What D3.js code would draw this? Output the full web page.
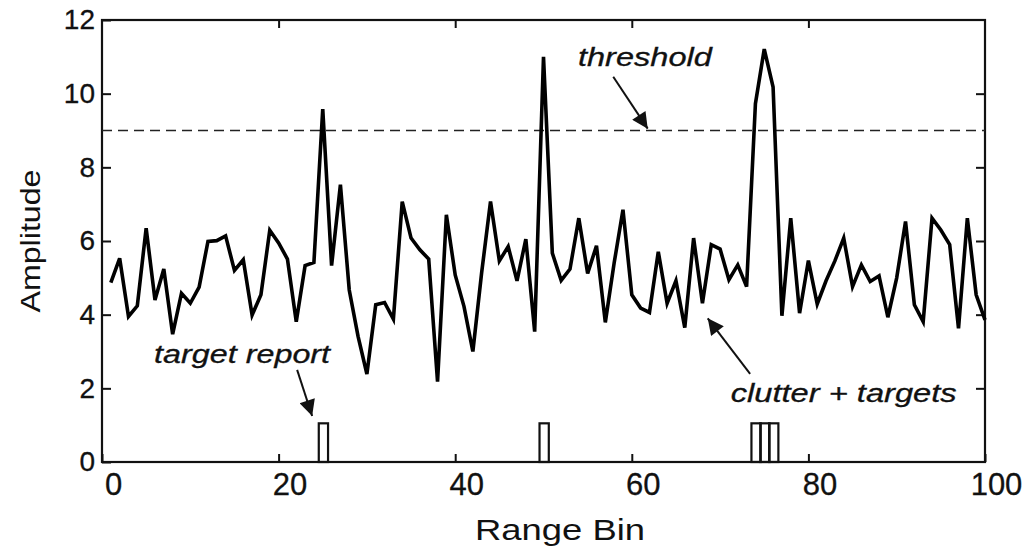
<!doctype html>
<html lang="en">
<head>
<meta charset="utf-8">
<script src="https://cdn.jsdelivr.net/npm/d3@7/dist/d3.min.js"></script>
<style>
    body { margin: 0; background: #fff; }
    svg { display: block; font-family: "Liberation Sans", Arial, sans-serif; }
    .axis text { fill: #111; stroke: #111; stroke-width: 0.3; }
    .axis line { stroke: #111; stroke-width: 2; }
</style>
</head>
<body>
<div id="chart"></div>
<script>
    // amplitude per range bin (bins 1..100)
    var amplitude = [
        4.87, 5.53, 3.95, 4.24, 6.35, 4.40, 5.24, 3.47, 4.58, 4.31,
        4.75, 5.99, 6.01, 6.14, 5.20, 5.49, 3.99, 4.54, 6.29, 5.95,
        5.51, 3.81, 5.33, 5.42, 9.58, 5.33, 7.53, 4.67, 3.41, 2.39,
        4.27, 4.33, 3.88, 7.07, 6.08, 5.76, 5.51, 2.18, 6.71, 5.08,
        4.22, 3.00, 5.15, 7.07, 5.46, 5.85, 4.92, 6.05, 3.54, 11.0,
        5.67, 4.93, 5.24, 6.62, 5.12, 5.87, 3.79, 5.40, 6.85, 4.54,
        4.18, 4.06, 5.71, 4.31, 4.92, 3.65, 6.08, 4.31, 5.90, 5.78,
        4.95, 5.35, 4.76, 9.73, 11.21, 10.18, 3.97, 6.62, 4.04, 5.47,
        4.29, 4.92, 5.46, 6.08, 4.76, 5.35, 4.90, 5.05, 3.93, 5.00,
        6.53, 4.27, 3.81, 6.62, 6.30, 5.90, 3.63, 6.62, 4.54, 3.86
    ];
    var firstBin = 1;
    var threshold = 9;
    // bins that crossed the threshold -> target reports of height 1
    var reportBins = [25, 50, 74, 75, 76];
    var reportLevel = 1.05;

    var xTicks = [0, 20, 40, 60, 80, 100];
    var yTicks = [0, 2, 4, 6, 8, 10, 12];

    var width = 1034, height = 548;
    var plot = {left: 102, right: 985, top: 20, bottom: 462};

    var x = d3.scaleLinear().domain([0, 100]).range([plot.left, plot.right]);
    var y = d3.scaleLinear().domain([0, 12]).range([plot.bottom, plot.top]);

    var svg = d3.select("#chart").append("svg")
        .attr("width", width)
        .attr("height", height);

    var defs = svg.append("defs");
    defs.append("marker")
        .attr("id", "head")
        .attr("viewBox", "0 0 10 10")
        .attr("refX", 10).attr("refY", 5)
        .attr("markerWidth", 19).attr("markerHeight", 16)
        .attr("markerUnits", "userSpaceOnUse")
        .attr("orient", "auto")
        .append("path")
        .attr("d", "M0,0 L10,5 L0,10 Z")
        .attr("fill", "#111");

    // axes: matlab style box, ticks pointing inward
    svg.append("g").attr("class", "axis")
        .attr("transform", "translate(0," + plot.bottom + ")")
        .call(d3.axisBottom(x).tickValues(xTicks).tickSizeInner(-8).tickSizeOuter(0).tickPadding(11))
        .call(function(g) {
            g.select(".domain").remove();
            g.selectAll("text").attr("font-size", 31).attr("dx", 11)
                .attr("font-family", "Liberation Sans, Arial, sans-serif");
        });
    svg.append("g").attr("class", "axis")
        .attr("transform", "translate(0," + plot.top + ")")
        .call(d3.axisTop(x).tickValues(xTicks.slice(1, -1)).tickSizeInner(-8).tickSizeOuter(0).tickFormat(""))
        .call(function(g) { g.select(".domain").remove(); });
    svg.append("g").attr("class", "axis")
        .attr("transform", "translate(" + plot.left + ",0)")
        .call(d3.axisLeft(y).tickValues(yTicks).tickSizeInner(-9).tickSizeOuter(0).tickPadding(7))
        .call(function(g) {
            g.select(".domain").remove();
            g.selectAll("text").attr("font-size", 28)
                .attr("font-family", "Liberation Sans, Arial, sans-serif");
        });
    svg.append("g").attr("class", "axis")
        .attr("transform", "translate(" + plot.right + ",0)")
        .call(d3.axisRight(y).tickValues(yTicks.slice(1, -1)).tickSizeInner(-9).tickSizeOuter(0).tickFormat(""))
        .call(function(g) { g.select(".domain").remove(); });

    svg.append("rect")
        .attr("x", plot.left).attr("y", plot.top)
        .attr("width", plot.right - plot.left)
        .attr("height", plot.bottom - plot.top)
        .attr("fill", "none")
        .attr("stroke", "#111")
        .attr("stroke-width", 2.2);

    // threshold
    svg.append("line")
        .attr("x1", x(0)).attr("x2", x(100))
        .attr("y1", y(threshold)).attr("y2", y(threshold))
        .attr("stroke", "#222")
        .attr("stroke-width", 1.7)
        .attr("stroke-dasharray", "10,6");

    // target reports
    svg.selectAll(".report").data(reportBins).enter().append("rect")
        .attr("class", "report")
        .attr("x", function(d) { return x(d - 0.45); })
        .attr("y", y(reportLevel))
        .attr("width", function(d) { return x(d + 0.6) - x(d - 0.45); })
        .attr("height", y(0) - y(reportLevel))
        .attr("fill", "none")
        .attr("stroke", "#111")
        .attr("stroke-width", 2.2);

    // clutter + targets
    var line = d3.line()
        .x(function(d, i) { return x(i + firstBin); })
        .y(function(d) { return y(d); });
    svg.append("path")
        .attr("fill", "none")
        .attr("stroke", "#000")
        .attr("stroke-width", 3.6)
        .attr("stroke-linejoin", "miter")
        .attr("d", line(amplitude));

    // annotations, positioned in data units
    var notes = [
        {text: "threshold", tx: 53.9, ty: 10.75, len: 134, from: [57.9, 10.46], to: [61.8, 9.05]},
        {text: "target report", tx: 5.9, ty: 2.69, len: 176, from: [22.1, 2.5], to: [23.8, 1.25]},
        {text: "clutter + targets", tx: 71.2, ty: 1.64, len: 226, from: [73.4, 2.39], to: [68.6, 3.9]}
    ];
    notes.forEach(function(n) {
        svg.append("text")
            .attr("x", x(n.tx)).attr("y", y(n.ty))
            .attr("font-size", 25)
            .attr("font-style", "italic")
            .attr("textLength", n.len)
            .attr("lengthAdjust", "spacingAndGlyphs")
            .attr("fill", "#111")
            .attr("stroke", "#111")
            .attr("stroke-width", 0.3)
            .text(n.text);
        svg.append("line")
            .attr("x1", x(n.from[0])).attr("y1", y(n.from[1]))
            .attr("x2", x(n.to[0])).attr("y2", y(n.to[1]))
            .attr("stroke", "#111")
            .attr("stroke-width", 2)
            .attr("marker-end", "url(#head)");
    });

    // axis titles
    svg.append("text")
        .attr("x", 560).attr("y", 540)
        .attr("text-anchor", "middle")
        .attr("font-size", 29)
        .attr("textLength", 170)
        .attr("lengthAdjust", "spacingAndGlyphs")
        .attr("fill", "#111")
        .text("Range Bin");
    svg.append("text")
        .attr("transform", "translate(40,241) rotate(-90)")
        .attr("text-anchor", "middle")
        .attr("font-size", 28)
        .attr("textLength", 143)
        .attr("lengthAdjust", "spacingAndGlyphs")
        .attr("fill", "#111")
        .text("Amplitude");
</script>
</body>
</html>
